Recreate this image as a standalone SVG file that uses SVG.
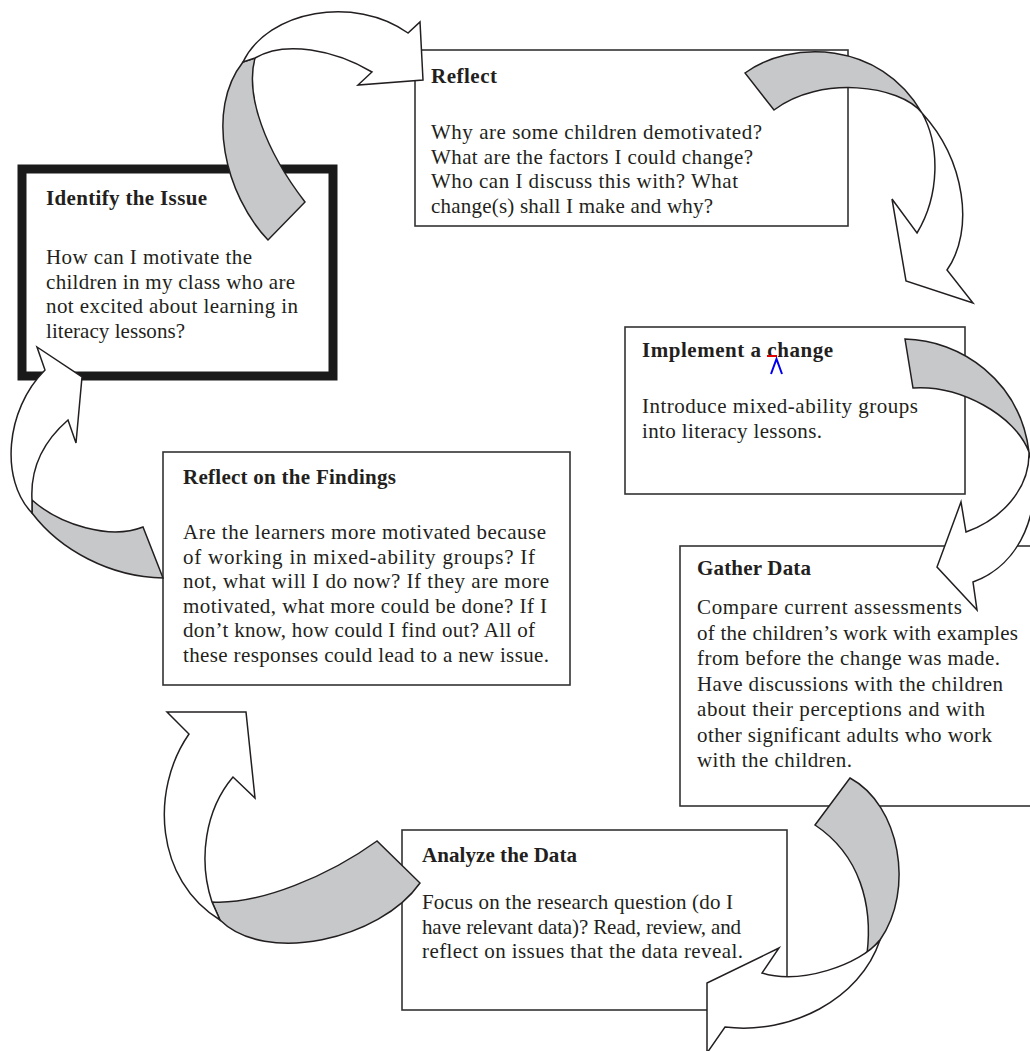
<svg xmlns="http://www.w3.org/2000/svg" width="1030" height="1051" viewBox="0 0 1030 1051">
<style>
.box{fill:#fff;stroke:#333;stroke-width:1.6}
.thick{fill:#fff;stroke:#1a1a1a;stroke-width:9}
text{font-family:"Liberation Serif","Times New Roman",serif;font-size:21px;fill:#231f20}
.t{font-weight:bold}
.g{fill:#c7c8ca;stroke:#231f20;stroke-width:1.5;stroke-linejoin:miter}
.w{fill:#fff;stroke:#231f20;stroke-width:1.5;stroke-linejoin:miter}
</style>
<rect width="1030" height="1051" fill="#fff"/>
<g id="identify">
<rect class="thick" x="22" y="169" width="311" height="207"/>
<text class="t" x="46" y="205" textLength="161">Identify the Issue</text>
<text x="46" y="264" textLength="206">How can I motivate the</text>
<text x="46" y="288.5" textLength="249">children in my class who are</text>
<text x="46" y="313" textLength="252">not excited about learning in</text>
<text x="46" y="337.5" textLength="139">literacy lessons?</text>
</g>
<g id="reflect">
<rect class="box" x="415" y="50" width="433" height="176"/>
<text class="t" x="431" y="83" textLength="66">Reflect</text>
<text x="431" y="139" textLength="331">Why are some children demotivated?</text>
<text x="431" y="163.5" textLength="322">What are the factors I could change?</text>
<text x="431" y="188" textLength="307">Who can I discuss this with? What</text>
<text x="431" y="212.5" textLength="282">change(s) shall I make and why?</text>
</g>
<g id="implement">
<rect class="box" x="625" y="327" width="340" height="167"/>
<text class="t" x="642" y="357" textLength="191">Implement a change</text>
<text x="642" y="413" textLength="276">Introduce mixed-ability groups</text>
<text x="642" y="438" textLength="180">into literacy lessons.</text>
<line x1="767" y1="356" x2="777" y2="356" stroke="#e00000" stroke-width="2"/>
<polyline points="771,374 776.5,359 782,374" fill="none" stroke="#0000ee" stroke-width="2"/>
</g>
<g id="gather">
<rect class="box" x="680" y="546" width="400" height="260"/>
<text class="t" x="697" y="575" textLength="114">Gather Data</text>
<text x="697" y="614" textLength="265">Compare current assessments</text>
<text x="697" y="639.5" textLength="321">of the children’s work with examples</text>
<text x="697" y="665" textLength="303">from before the change was made.</text>
<text x="697" y="690.5" textLength="306">Have discussions with the children</text>
<text x="697" y="716" textLength="288">about their perceptions and with</text>
<text x="697" y="741.5" textLength="295">other significant adults who work</text>
<text x="697" y="767" textLength="155">with the children.</text>
</g>
<g id="findings">
<rect class="box" x="163" y="452" width="407" height="233"/>
<text class="t" x="183" y="484" textLength="213">Reflect on the Findings</text>
<text x="183" y="539" textLength="363">Are the learners more motivated because</text>
<text x="183" y="563.5" textLength="352">of working in mixed-ability groups? If</text>
<text x="183" y="588" textLength="366">not, what will I do now? If they are more</text>
<text x="183" y="612.5" textLength="364">motivated, what more could be done? If I</text>
<text x="183" y="637" textLength="352">don’t know, how could I find out? All of</text>
<text x="183" y="661.5" textLength="366">these responses could lead to a new issue.</text>
</g>
<g id="analyze">
<rect class="box" x="402" y="830" width="385" height="180"/>
<text class="t" x="422" y="862" textLength="155">Analyze the Data</text>
<text x="422" y="909" textLength="311">Focus on the research question (do I</text>
<text x="422" y="933.5" textLength="319">have relevant data)? Read, review, and</text>
<text x="422" y="958" textLength="321">reflect on issues that the data reveal.</text>
</g>
<g id="connectors">
<g id="arrow-identify-reflect">
<path class="g" d="M268,240 C225,195 205,110 243,62 L255,58 C245,95 265,150 305,202 Z"/>
<path class="w" d="M243,62 C268,10 355,-5 408,33 L420,22 L423,80 L358,85 L372,72 C335,50 285,40 255,58 Z"/>
</g>
<g id="arrow-reflect-implement">
<path class="g" d="M745,73 C790,40 880,40 922,113 C900,85 820,75 774,110 Z"/>
<path class="w" d="M922,113 C940,145 940,195 917,233 L892,199 L906,281 L973,303 L947,270 C975,230 965,160 922,113 Z"/>
</g>
<g id="arrow-implement-gather">
<path class="g" d="M905,339 C960,340 1020,380 1029,452 C1015,415 960,385 913,388 Z"/>
<path class="w" d="M1029,452 C1030,490 1000,520 966,532 L961,502 L937,567 L977,610 L973,582 C1020,565 1045,510 1029,452 Z"/>
</g>
<g id="arrow-gather-analyze">
<path class="g" d="M815,825 L850,778 C900,805 915,890 880,940 L867,954 C873,905 860,855 815,825 Z"/>
<path class="w" d="M880,940 C860,965 800,985 762,973 L779,948 L707,983 L707,1053 L725,1027 C790,1035 860,1000 880,940 Z"/>
</g>
<g id="arrow-analyze-findings">
<path class="g" d="M377,841 C330,875 260,905 212,902 L220,920 C265,965 380,940 420,883 Z"/>
<path class="w" d="M212,902 C198,860 205,810 233,777 L255,798 L246,712 L167,712 L189,734 C150,790 155,880 220,920 Z"/>
</g>
<g id="arrow-findings-identify">
<path class="g" d="M32,500 C60,525 110,540 143,527 L163,578 C110,577 60,550 32,513 Z"/>
<path class="w" d="M32,500 C30,465 45,440 68,420 L76,443 L82,377 L37,347 L45,370 C5,410 0,480 32,513 Z"/>
</g>
</g>
</svg>
